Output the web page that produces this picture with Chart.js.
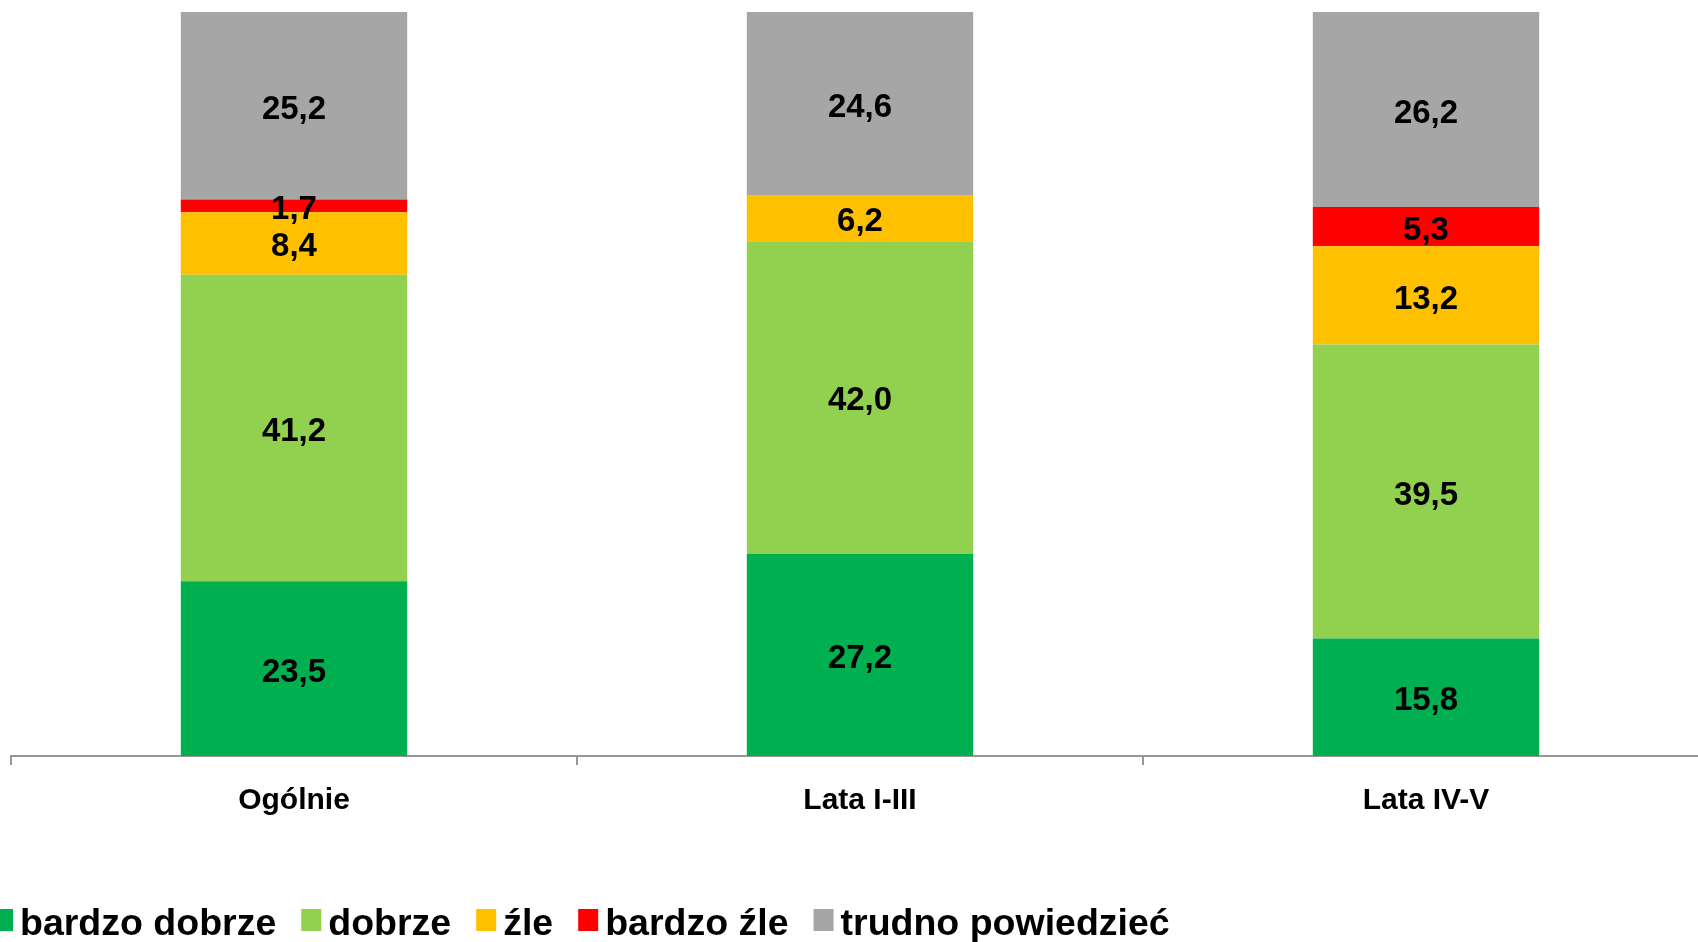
<!DOCTYPE html>
<html>
<head>
<meta charset="utf-8">
<script src="https://cdn.jsdelivr.net/npm/chart.js@4.4.0/dist/chart.umd.min.js"></script>
<style>
html, body { margin: 0; padding: 0; background: #fff; overflow: hidden; }
#wrap { position: relative; width: 1720px; height: 942px; }
</style>
</head>
<body>
<div id="wrap"><canvas id="chart-bar"></canvas></div>
<script>
var categories = ['Ogólnie', 'Lata I-III', 'Lata IV-V'];
var bardzoDobrze = [23.5, 27.2, 15.8];
var dobrze = [41.2, 42.0, 39.5];
var zle = [8.4, 6.2, 13.2];
var bardzoZle = [1.7, 0, 5.3];
var trudnoPowiedziec = [25.2, 24.6, 26.2];
var seriesNames = ['bardzo dobrze', 'dobrze', 'źle', 'bardzo źle', 'trudno powiedzieć'];
var seriesColors = ['#00B050', '#92D050', '#FFC000', '#FF0000', '#A6A6A6'];

var FONT = '"Liberation Sans", Arial, sans-serif';

// value labels in the middle of each segment
var valueLabels = {
    id: 'valueLabels',
    afterDatasetsDraw: function(chart) {
        var ctx = chart.ctx;
        ctx.save();
        ctx.font = 'bold 33px ' + FONT;
        ctx.fillStyle = '#000';
        ctx.textAlign = 'center';
        ctx.textBaseline = 'middle';
        chart.data.datasets.forEach(function(ds, i) {
            chart.getDatasetMeta(i).data.forEach(function(bar, j) {
                var v = ds.data[j];
                if (!v) return;
                ctx.fillText(v.toFixed(1).replace('.', ','), bar.x, (bar.y + bar.base) / 2 + 4);
            });
        });
        ctx.restore();
    }
};

// legend row at the bottom
var bottomLegend = {
    id: 'bottomLegend',
    afterDraw: function(chart) {
        var ctx = chart.ctx;
        var x = -7;
        ctx.save();
        ctx.font = 'bold 37.5px ' + FONT;
        ctx.textBaseline = 'alphabetic';
        ctx.textAlign = 'left';
        chart.data.datasets.forEach(function(ds) {
            ctx.fillStyle = ds.backgroundColor;
            ctx.fillRect(x, 909, 20, 22);
            ctx.fillStyle = '#000';
            ctx.fillText(ds.label, x + 27, 935);
            x += 27 + ctx.measureText(ds.label).width + 25;
        });
        ctx.restore();
    }
};

var series = [bardzoDobrze, dobrze, zle, bardzoZle, trudnoPowiedziec];

var ctxBar = document.getElementById('chart-bar').getContext('2d');
var chartBar = new Chart(ctxBar, {
    type: 'bar',
    data: {
        labels: categories,
        datasets: series.map(function(d, i) {
            return {
                label: seriesNames[i],
                data: d,
                backgroundColor: seriesColors[i],
                borderWidth: 0,
                categoryPercentage: 1,
                barPercentage: 0.4
            };
        })
    },
    options: {
        responsive: true,
        maintainAspectRatio: false,
        animation: false,
        layout: { padding: { left: 11, right: 11, top: 12, bottom: 0 } },
        plugins: {
            legend: { display: false },
            tooltip: { enabled: false }
        },
        scales: {
            x: {
                stacked: true,
                grid: {
                    display: true,
                    drawOnChartArea: false,
                    drawTicks: true,
                    tickLength: 9,
                    color: '#969696',
                    lineWidth: 2
                },
                border: { display: true, color: '#969696', width: 2 },
                ticks: {
                    color: '#000',
                    padding: 18,
                    font: { family: FONT, size: 30, weight: 'bold' }
                },
                afterFit: function(scale) { scale.height = 186; }
            },
            y: {
                stacked: true,
                display: false,
                min: 0,
                max: 100
            }
        }
    },
    plugins: [valueLabels, bottomLegend]
});
</script>
</body>
</html>
